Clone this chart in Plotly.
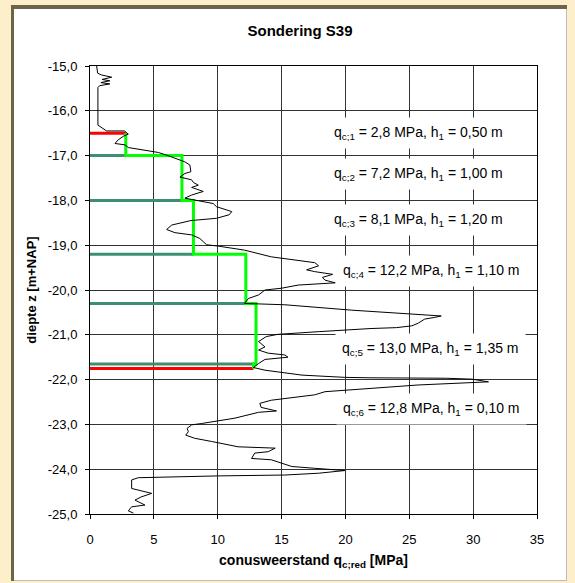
import plotly.graph_objects as go

# ---- data ----
depth = [-15.00, -15.16, -15.20, -15.25, -15.30, -15.33, -15.37, -15.40, -15.44, -15.48,
         -16.32, -16.41, -16.45, -16.45, -16.52, -16.57, -16.65, -16.73, -16.76, -16.82,
         -16.86, -16.91, -16.93, -16.99, -17.06, -17.14, -17.21, -17.36, -17.40, -17.48,
         -17.54, -17.60, -17.66, -17.71, -17.80, -17.88, -17.95, -18.02, -18.07, -18.14,
         -18.25, -18.32, -18.40, -18.45, -18.55, -18.65, -18.72, -18.77, -18.85, -18.93,
         -18.99, -19.02, -19.11, -19.26, -19.33, -19.39, -19.46, -19.55, -19.59, -19.65,
         -19.72, -19.78, -19.84, -19.89, -19.96, -20.00, -20.11, -20.19, -20.30, -20.33,
         -20.45, -20.52, -20.56, -20.58, -20.61, -20.65, -20.74, -20.80, -20.84, -20.86,
         -20.93, -20.99, -21.04, -21.15, -21.27, -21.34, -21.41, -21.45, -21.50, -21.55,
         -21.64, -21.73, -21.79, -21.90, -21.95, -21.96, -21.97, -21.99, -22.05, -22.12,
         -22.27, -22.34, -22.46, -22.53, -22.62, -22.70, -22.73, -22.86, -22.98, -23.01,
         -23.09, -23.16, -23.24, -23.31, -23.38, -23.50, -23.53, -23.61, -23.64, -23.76,
         -23.79, -23.87, -23.94, -23.98, -24.02, -24.03, -24.09, -24.13, -24.15, -24.17,
         -24.19, -24.24, -24.43, -24.54, -24.62, -24.69, -24.80, -24.84, -24.93, -24.98]
qc = [0.52, 0.60, 0.90, 1.70, 0.95, 1.55, 0.85, 1.55, 0.75, 0.62,
      0.62, 1.04, 1.30, 2.70, 3.00, 2.60, 2.20, 1.96, 2.74, 3.00,
      3.78, 4.80, 5.35, 6.00, 6.65, 7.43, 7.82, 7.90, 7.43, 7.04,
      7.95, 8.10, 8.48, 7.96, 8.87, 7.96, 7.43, 8.90, 9.65, 9.90,
      11.10, 10.90, 9.90, 7.90, 6.40, 6.00, 6.65, 7.96, 8.60, 8.90,
      9.13, 10.04, 12.10, 14.20, 16.30, 17.60, 17.90, 16.96, 17.60, 19.00,
      18.20, 18.40, 19.20, 16.30, 15.00, 13.70, 13.20, 12.40, 12.10, 15.26,
      20.50, 24.60, 26.50, 27.50, 27.00, 26.20, 25.70, 25.20, 24.00, 22.00,
      17.90, 14.70, 13.80, 13.20, 13.70, 13.20, 13.95, 15.26, 15.50, 13.70,
      13.20, 12.80, 13.70, 16.60, 19.95, 22.00, 27.90, 29.90, 31.20, 25.70,
      18.40, 17.60, 14.20, 13.30, 13.40, 14.60, 13.20, 11.35, 8.74, 7.96,
      7.60, 7.70, 7.50, 8.20, 9.50, 11.60, 14.50, 13.95, 12.90, 12.65,
      14.20, 15.00, 15.80, 17.60, 19.40, 19.95, 17.90, 15.26, 10.00, 7.43,
      3.78, 3.26, 3.26, 4.83, 4.00, 3.52, 4.30, 3.26, 3.00, 3.40]

layer_qc = [2.8, 7.2, 8.1, 12.2, 13.0, 12.8]
layer_h = [0.50, 1.00, 1.20, 1.10, 1.35, 0.10]
layer_top = -16.5
label_x = [25.75, 25.75, 25.75, 26.7, 26.65, 26.75]
label_y = [-16.50, -17.41, -18.44, -19.57, -21.32, -22.66]

x_ticks = [0, 5, 10, 15, 20, 25, 30, 35]
y_ticks = [-15, -16, -17, -18, -19, -20, -21, -22, -23, -24, -25]
y_ticktext = ["-15,0", "-16,0", "-17,0", "-18,0", "-19,0", "-20,0",
              "-21,0", "-22,0", "-23,0", "-24,0", "-25,0"]

title_text = "Sondering S39"
x_title = "conusweerstand q<sub>c;red</sub> [MPa]"
y_title = "diepte z [m+NAP]"

# ---- layer boundaries ----
bounds = [layer_top]
for h in layer_h:
    bounds.append(round(bounds[-1] - h, 4))

FONT = "Liberation Sans, Arial, sans-serif"
fig = go.Figure()

# teal horizontal lines at internal boundaries
for i in range(1, len(layer_qc)):
    fig.add_trace(go.Scatter(x=[0, layer_qc[i - 1]], y=[bounds[i], bounds[i]], mode="lines",
                             line=dict(color="#3C9070", width=3), hoverinfo="skip"))
# red lines at top and bottom
fig.add_trace(go.Scatter(x=[0, layer_qc[0]], y=[bounds[0], bounds[0]], mode="lines",
                         line=dict(color="#FF0000", width=3), hoverinfo="skip"))
fig.add_trace(go.Scatter(x=[0, layer_qc[-1]], y=[bounds[-1], bounds[-1]], mode="lines",
                         line=dict(color="#FF0000", width=3), hoverinfo="skip"))

# green step line
sx, sy = [], []
for i, q in enumerate(layer_qc):
    sx += [q, q]
    sy += [bounds[i], bounds[i + 1]]
fig.add_trace(go.Scatter(x=sx, y=sy, mode="lines", line=dict(color="#00FF00", width=3),
                         hoverinfo="skip"))

# CPT curve
fig.add_trace(go.Scatter(x=qc, y=depth, mode="lines", line=dict(color="black", width=1)))

# layer labels
dec = lambda v, n: f"{v:.{n}f}".replace(".", ",")
for i, q in enumerate(layer_qc):
    txt = f"q<sub>c;{i+1}</sub> = {dec(q,1)} MPa, h<sub>1</sub> = {dec(layer_h[i],2)} m"
    fig.add_annotation(x=label_x[i], y=label_y[i], text=txt, showarrow=False,
                       bgcolor="white", borderpad=6,
                       font=dict(family=FONT, size=14, color="black"))

# frame shapes (pixel -> paper)
L, R, T, B = 90, 537, 66, 514
W, H = R - L, B - T
px = lambda p: (p - L) / W
py = lambda p: (B - p) / H
fig.add_shape(type="rect", xref="paper", yref="paper", layer="below",
              x0=px(11), x1=px(567), y0=py(5), y1=py(581),
              fillcolor="#6B6549", line=dict(width=0))
fig.add_shape(type="rect", xref="paper", yref="paper", layer="below",
              x0=px(14), x1=px(567), y0=py(9), y1=py(581),
              fillcolor="#BDBDBD", line=dict(width=0))
fig.add_shape(type="rect", xref="paper", yref="paper", layer="below",
              x0=px(14), x1=px(566), y0=py(9), y1=py(580),
              fillcolor="white", line=dict(width=0))

fig.update_layout(
    width=575, height=583,
    margin=dict(l=L, r=575 - R, t=T, b=583 - B),
    paper_bgcolor="#FDEFC9", plot_bgcolor="white",
    showlegend=False, separators=", ",
    font=dict(family=FONT, size=12, color="black"),
    title=dict(text=f"<b>{title_text}</b>", x=300 / 575, xref="container", xanchor="center",
               y=1 - 31 / 583, yref="container", yanchor="middle",
               font=dict(family=FONT, size=15, color="black")),
    xaxis=dict(range=[0, 35], tickvals=x_ticks, showgrid=True, gridcolor="#333333", gridwidth=1,
               showline=True, linecolor="black", linewidth=1, mirror=True,
               ticks="outside", ticklen=4, tickcolor="black", zeroline=False,
               ticklabelstandoff=9,
               tickfont=dict(family=FONT, size=13),
               title=dict(text=f"<b>{x_title}</b>", standoff=9,
                          font=dict(family=FONT, size=14))),
    yaxis=dict(range=[-25, -15], tickvals=y_ticks, ticktext=y_ticktext, showgrid=True,
               gridcolor="#333333", gridwidth=1,
               showline=True, linecolor="black", linewidth=1, mirror=True,
               ticks="outside", ticklen=4, tickcolor="black", zeroline=False,
               ticklabelstandoff=5,
               tickfont=dict(family=FONT, size=13),
               title=dict(text=f"<b>{y_title}</b>", standoff=8,
                          font=dict(family=FONT, size=13))),
)

fig.write_html("out.html", config={"displayModeBar": False},
               post_script="document.body.style.margin='0';document.body.style.overflow='hidden';")
